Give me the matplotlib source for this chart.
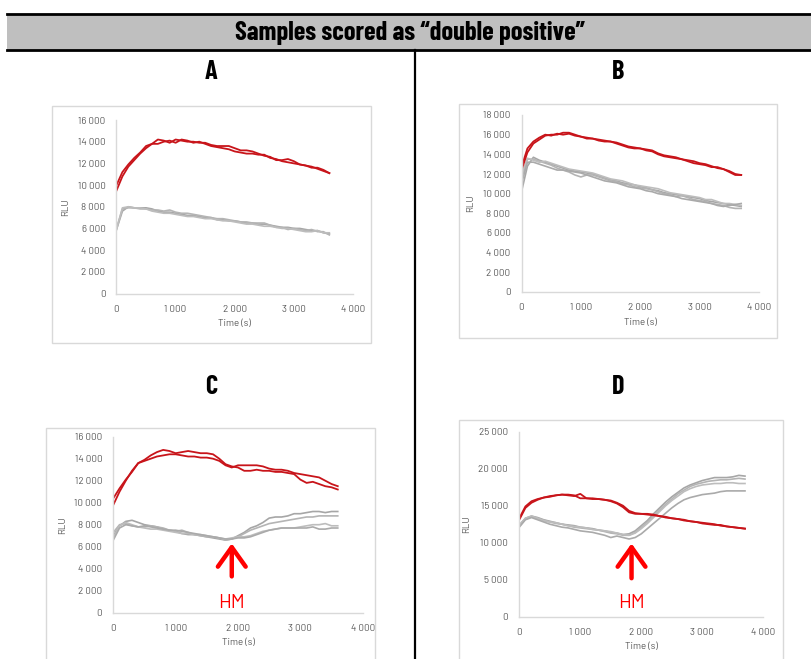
import matplotlib
matplotlib.use("Agg")
import matplotlib.pyplot as plt
from matplotlib.patches import Rectangle
from matplotlib.lines import Line2D
from matplotlib.ticker import FuncFormatter, MultipleLocator

plt.rcParams['font.family'] = ['Barlow', 'DejaVu Sans']
COND = ['Barlow Condensed', 'DejaVu Sans']

W, H = 812, 659

# ---- data (RLU vs time, 100 s steps) ----
t_a = list(range(0, 3700, 100))
a_red1 = [9500, 10800, 11700, 12300, 12900, 13400, 13800, 14200, 14100, 13900, 14200, 14100, 14000, 14000, 13900, 13900,
          13700, 13600, 13600, 13600, 13400, 13200, 13200, 13100, 12900, 12700, 12600, 12300, 12300, 12400, 12200, 11900,
          11800, 11700, 11500, 11300, 11100]
a_red2 = [10000, 11200, 11900, 12500, 13000, 13600, 13800, 13800, 14000, 14100, 13900, 14200, 14100, 13900, 14000, 13800,
          13600, 13500, 13400, 13300, 13100, 13000, 12900, 12900, 12800, 12800, 12500, 12400, 12200, 12100, 12000, 11900,
          11800, 11600, 11600, 11400, 11100]
a_gray1 = [5900, 7600, 8000, 7900, 7900, 7900, 7800, 7600, 7500, 7500, 7400, 7300, 7200, 7200, 7100, 7000, 7000, 6800,
           6800, 6700, 6700, 6600, 6500, 6500, 6400, 6400, 6300, 6200, 6100, 6100, 6000, 6000, 5900, 5800, 5800, 5600, 5500]
a_gray2 = [6000, 7800, 7900, 7900, 7800, 7800, 7700, 7700, 7600, 7700, 7500, 7400, 7400, 7300, 7200, 7100, 7000, 6900,
           6900, 6800, 6700, 6600, 6600, 6500, 6500, 6500, 6300, 6100, 6100, 5900, 6000, 5900, 5800, 5900, 5700, 5700, 5400]
a_gray3 = [5900, 7900, 8000, 7900, 7900, 7800, 7600, 7500, 7400, 7400, 7300, 7200, 7100, 7100, 7000, 6900, 6900, 6800,
           6700, 6700, 6600, 6500, 6400, 6400, 6300, 6200, 6200, 6100, 6000, 6000, 5900, 5800, 5700, 5700, 5800, 5600, 5600]

t_b = list(range(0, 3800, 100))
b_red1 = [12400, 14200, 15100, 15500, 15900, 16000, 16000, 16200, 16200, 16000, 15800, 15700, 15600, 15500, 15400, 15300,
          15200, 15000, 14800, 14700, 14600, 14500, 14400, 14100, 13900, 13800, 13700, 13500, 13400, 13300, 13100, 13000,
          12800, 12600, 12500, 12300, 12000, 11900]
b_red2 = [12700, 14600, 15300, 15700, 16000, 15900, 16100, 16000, 16100, 15900, 15800, 15600, 15600, 15400, 15300, 15300,
          15100, 14900, 14700, 14600, 14600, 14400, 14300, 14000, 13800, 13700, 13600, 13500, 13300, 13100, 13000, 12900,
          12700, 12700, 12500, 12200, 11900, 11900]
b_gray1 = [10200, 12800, 13700, 13400, 13200, 13000, 12800, 12600, 12400, 12300, 12200, 12100, 12000, 11800, 11600, 11400,
           11300, 11100, 11000, 10900, 10700, 10600, 10400, 10300, 10100, 10000, 9900, 9800, 9700, 9600, 9500, 9300,
           9200, 9100, 9000, 8900, 8800, 8700]
b_gray2 = [11500, 13500, 13500, 13300, 13100, 12900, 12600, 12400, 12200, 11900, 11700, 11900, 11900, 11700, 11500, 11300,
           11200, 11000, 10900, 10700, 10600, 10500, 10400, 10200, 10000, 9900, 9700, 9800, 9600, 9400, 9300, 9200,
           9000, 8900, 8800, 8600, 8500, 8500]
b_gray3 = [11900, 13600, 13400, 13200, 13300, 13100, 12900, 12700, 12500, 12400, 12300, 12200, 12100, 11900, 11700, 11500,
           11400, 11300, 11100, 10900, 10800, 10700, 10600, 10500, 10300, 10100, 10000, 9900, 9800, 9700, 9600, 9400,
           9400, 9200, 9000, 9000, 8900, 8800]
b_gray4 = [11000, 13200, 13200, 13000, 12800, 12600, 12400, 12400, 12300, 12200, 12100, 11900, 11700, 11500, 11300, 11200,
           11100, 10900, 10700, 10600, 10500, 10300, 10200, 10000, 9900, 9800, 9700, 9500, 9400, 9300, 9200, 9100,
           9000, 8800, 8700, 8800, 8900, 9000]

t_c = list(range(0, 3700, 100))
c_red1 = [10400, 11300, 12100, 12800, 13600, 13900, 14300, 14600, 14800, 14700, 14500, 14600, 14700, 14600, 14500, 14500,
          14400, 14000, 13500, 13300, 13200, 12900, 12900, 13000, 12900, 12900, 12800, 12800, 12700, 12600, 12100, 11800,
          11900, 11700, 11500, 11400, 11200]
c_red2 = [9800, 11000, 12000, 12900, 13600, 13800, 14000, 14200, 14300, 14400, 14400, 14300, 14200, 14200, 14100, 14100,
          14000, 13800, 13400, 13200, 13400, 13400, 13400, 13400, 13300, 13100, 13000, 13000, 12900, 12700, 12600, 12500,
          12400, 12300, 12000, 11700, 11500]
c_gray1 = [7000, 7900, 8300, 8400, 8200, 8000, 7900, 7800, 7600, 7500, 7400, 7200, 7100, 7100, 7000, 6900, 6800, 6700,
           6600, 6700, 7000, 7300, 7700, 7900, 8200, 8600, 8700, 8700, 8800, 9000, 9000, 9100, 9200, 9200, 9100, 9200, 9200]
c_gray2 = [7300, 8000, 8100, 7900, 7800, 7800, 7900, 7800, 7700, 7500, 7400, 7500, 7300, 7100, 7000, 6900, 6900, 6800,
           6600, 6700, 6900, 7200, 7500, 7700, 7900, 8100, 8200, 8300, 8400, 8500, 8600, 8700, 8700, 8800, 8800, 8800, 8800]
c_gray3 = [6800, 7900, 8200, 8000, 7800, 7700, 7600, 7600, 7500, 7400, 7300, 7200, 7200, 7100, 7100, 7000, 6900, 6800,
           6700, 6800, 6900, 6900, 7000, 7200, 7400, 7500, 7600, 7700, 7700, 7700, 7800, 7900, 8000, 8000, 8100, 7900, 7900]
c_gray4 = [6600, 7700, 8000, 7900, 7800, 7900, 7800, 7700, 7600, 7500, 7500, 7400, 7300, 7200, 7100, 7000, 6900, 6800,
           6700, 6700, 6800, 6800, 6900, 7100, 7300, 7500, 7600, 7700, 7700, 7700, 7700, 7700, 7800, 7600, 7600, 7700, 7700]

t_d = list(range(0, 3800, 100))
d_red1 = [13100, 14700, 15400, 15800, 16100, 16200, 16400, 16500, 16400, 16300, 16600, 16000, 15900, 15900, 15800, 15700,
          15400, 15000, 14300, 14000, 13900, 13900, 13800, 13600, 13400, 13300, 13200, 13100, 12900, 12800, 12700, 12600,
          12500, 12300, 12200, 12100, 12000, 11900]
d_red2 = [13300, 14900, 15600, 15900, 16100, 16300, 16400, 16500, 16500, 16400, 16000, 16000, 16000, 15900, 15800, 15600,
          15300, 14800, 14100, 13900, 13900, 13800, 13700, 13600, 13500, 13300, 13200, 13000, 12900, 12800, 12600, 12500,
          12400, 12400, 12200, 12100, 12000, 11900]
d_gray1 = [12400, 13300, 13600, 13400, 13100, 12900, 12700, 12500, 12400, 12300, 12100, 12000, 11900, 11700, 11600, 11400,
           11300, 11100, 11200, 11600, 12300, 13000, 13900, 14700, 15500, 16200, 16800, 17400, 17800, 18100, 18400, 18600,
           18800, 18800, 18800, 18900, 19100, 19000]
d_gray2 = [12200, 13200, 13500, 13300, 13000, 12800, 12600, 12500, 12300, 12100, 12000, 11900, 11800, 11700, 11500, 11300,
           11200, 11000, 11000, 11400, 12100, 12800, 13600, 14400, 15200, 15900, 16600, 17100, 17600, 17900, 18100, 18300,
           18400, 18500, 18500, 18600, 18700, 18600]
d_gray3 = [12300, 13300, 13600, 13300, 13000, 12800, 12700, 12500, 12300, 12200, 12100, 12000, 11800, 11700, 11600, 11500,
           11300, 11100, 11000, 11300, 11900, 12600, 13400, 14200, 15000, 15700, 16300, 16900, 17300, 17600, 17800, 17900,
           18000, 18000, 18100, 18100, 18000, 18000]
d_gray4 = [12100, 13100, 13400, 13100, 12800, 12500, 12300, 12100, 12000, 11800, 11600, 11500, 11400, 11200, 11000, 10700,
           10900, 10700, 10500, 10700, 11200, 11900, 12600, 13300, 14000, 14700, 15300, 15800, 16100, 16300, 16500, 16600,
           16700, 16900, 17000, 17000, 17000, 17000]

hm_c = (1900, 6300)
hm_d = (1840, 9900)

RED = '#c8141a'
GRAYS = ['#a6a6a6', '#b4b4b4', '#bdbdbd', '#aaaaaa']
TXT = '#595959'
BORDER = '#d9d9d9'

fig = plt.figure(figsize=(W / 100, H / 100), dpi=100)


def fx(x):
    return x / W


def fy(y):
    return 1 - y / H


def box(x0, y0, x1, y1, **kw):
    fig.patches.append(Rectangle((fx(x0), fy(y1)), fx(x1) - fx(x0), fy(y0) - fy(y1),
                                 transform=fig.transFigure, **kw))


def hline(x0, x1, y, lw, color='black'):
    fig.lines.append(Line2D([fx(x0), fx(x1)], [fy(y), fy(y)], transform=fig.transFigure, lw=lw, color=color))


# title band
box(7, 14, 812, 50, facecolor='#bfbfbf', edgecolor='none')
hline(7, 812, 14, 2.0)
hline(7, 812, 50, 2.0)
fig.text(fx(410), fy(33), 'Samples scored as \u201cdouble positive\u201d', ha='center', va='center',
         fontsize=19, fontweight='bold', family=COND)
fig.lines.append(Line2D([fx(415), fx(415)], [fy(50), fy(659)], transform=fig.transFigure, lw=1.6, color='black'))

# chart frames
box(52, 106, 370.5, 343, facecolor='none', edgecolor=BORDER, lw=1)
box(459, 104, 777.5, 338, facecolor='none', edgecolor=BORDER, lw=1)
box(46.5, 428, 375, 662, facecolor='none', edgecolor=BORDER, lw=1)
box(459, 420, 783, 662, facecolor='none', edgecolor=BORDER, lw=1)

for letter, x, y in [('A', 211, 72), ('B', 618, 72), ('C', 211, 387), ('D', 618, 387)]:
    fig.text(fx(x), fy(y), letter, ha='center', va='center', fontsize=19, fontweight='bold', family=COND)


def thousands(v, _):
    return f"{int(round(v)):,}".replace(',', ' ')


def chart(x0, x1, ybot, ytop, ymax, ystep, t, reds, grays):
    ax = fig.add_axes([fx(x0), fy(ybot), fx(x1) - fx(x0), fy(ytop) - fy(ybot)])
    for i, g in enumerate(grays):
        ax.plot(t, g, color=GRAYS[i % len(GRAYS)], lw=1.2)
    for r in reds:
        ax.plot(t, r, color=RED, lw=1.3)
    ax.set_xlim(0, 4000)
    ax.set_ylim(0, ymax)
    ax.xaxis.set_major_locator(MultipleLocator(1000))
    ax.yaxis.set_major_locator(MultipleLocator(ystep))
    ax.xaxis.set_major_formatter(FuncFormatter(thousands))
    ax.yaxis.set_major_formatter(FuncFormatter(thousands))
    for s in ['top', 'right']:
        ax.spines[s].set_visible(False)
    for s in ['left', 'bottom']:
        ax.spines[s].set_color(BORDER)
        ax.spines[s].set_linewidth(1)
    ax.tick_params(length=0, labelsize=7, labelcolor=TXT)
    ax.tick_params(axis='y', pad=8)
    ax.tick_params(axis='x', pad=8)
    ax.set_xlabel('Time (s)', fontsize=7, color=TXT, labelpad=4)
    ax.set_ylabel('RLU', fontsize=7, color=TXT, labelpad=5)
    ax.patch.set_alpha(0)
    return ax


chart(116.5, 353, 293.5, 120, 16000, 2000, t_a, [a_red1, a_red2], [a_gray1, a_gray2, a_gray3])
chart(521.5, 759, 292, 115, 18000, 2000, t_b, [b_red1, b_red2], [b_gray1, b_gray2, b_gray3, b_gray4])
ax_c = chart(113.3, 362.7, 612.7, 436.7, 16000, 2000, t_c, [c_red1, c_red2], [c_gray1, c_gray2, c_gray3, c_gray4])
ax_d = chart(519.3, 763.3, 616.7, 431.7, 25000, 5000, t_d, [d_red1, d_red2], [d_gray1, d_gray2, d_gray3, d_gray4])

for ax, (hx, hy), dy in [(ax_c, hm_c, 3000), (ax_d, hm_d, 4700)]:
    ax.annotate('', xy=(hx, hy), xytext=(hx, hy - dy),
                arrowprops=dict(arrowstyle='->,head_length=1.4,head_width=1.0', color='#ff0000', lw=3.2,
                                shrinkA=0, shrinkB=0))
    ax.annotate('HM', xy=(hx, hy), xytext=(0, -43), textcoords='offset points', ha='center', va='center',
                fontsize=14, color='#ff0000')

fig.savefig('out.png', dpi=100)
